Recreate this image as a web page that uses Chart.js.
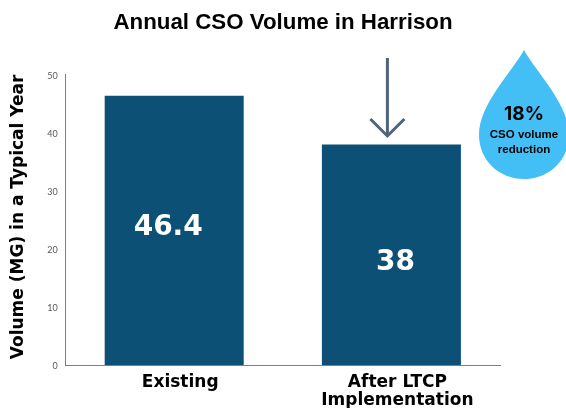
<!DOCTYPE html>
<html>
<head>
<meta charset="utf-8">
<script src="https://cdn.jsdelivr.net/npm/chart.js@4"></script>
<style>
  html, body { margin: 0; padding: 0; background: #fff; }
  canvas { display: block; }
</style>
</head>
<body>
<canvas id="barChart" width="566" height="408"></canvas>
<script>
const categories = [['Existing'], ['After LTCP', 'Implementation']];
const volumes = [46.4, 38];
const yTicks = [0, 10, 20, 30, 40, 50];
const barLabels = ['46.4', '38'];

const labelFont = '"DejaVu Sans", sans-serif';

// title is centred on the whole page, not on the plot
const centerTitlePlugin = {
    id: 'centerTitle',
    afterLayout(chart) {
        chart.titleBlock.right = chart.width;
    }
};

// white numbers inside the bars
const barLabelPlugin = {
    id: 'barLabels',
    afterDatasetsDraw(chart) {
        const ctx = chart.ctx;
        const shiftX = [-6, 4];
        const shiftY = [-3, 8];
        ctx.save();
        ctx.fillStyle = '#fff';
        ctx.font = 'bold 28px ' + labelFont;
        ctx.textAlign = 'center';
        ctx.textBaseline = 'middle';
        chart.getDatasetMeta(0).data.forEach((bar, i) => {
            ctx.fillText(barLabels[i], bar.x + shiftX[i], (bar.y + bar.base) / 2 + shiftY[i]);
        });
        ctx.restore();
    }
};

// arrow above the second bar, and the water drop callout
const calloutPlugin = {
    id: 'callout',
    afterDraw(chart) {
        const ctx = chart.ctx;
        const arrowX = chart.getDatasetMeta(0).data[1].x - 4;
        ctx.save();
        ctx.strokeStyle = '#4f6479';
        ctx.lineWidth = 3;
        ctx.beginPath();
        ctx.moveTo(arrowX, 58);
        ctx.lineTo(arrowX, 135);
        ctx.moveTo(arrowX - 17, 119);
        ctx.lineTo(arrowX, 136);
        ctx.lineTo(arrowX + 17, 119);
        ctx.stroke();

        ctx.fillStyle = '#43bff5';
        ctx.beginPath();
        ctx.moveTo(524, 50);
        ctx.bezierCurveTo(512, 72, 479, 104, 479, 135);
        ctx.bezierCurveTo(479, 160, 499, 179, 524, 179);
        ctx.bezierCurveTo(549, 179, 569, 160, 569, 135);
        ctx.bezierCurveTo(569, 104, 536, 72, 524, 50);
        ctx.fill();

        ctx.fillStyle = '#000';
        ctx.textAlign = 'center';
        ctx.textBaseline = 'middle';
        ctx.font = 'bold 19px Inter, sans-serif';
        ctx.fillText('18%', 524, 114);
        ctx.font = 'bold 11.5px "Liberation Sans", sans-serif';
        ctx.fillText('CSO volume', 524, 135);
        ctx.fillText('reduction', 524, 150);
        ctx.restore();
    }
};

new Chart(document.getElementById('barChart').getContext('2d'), {
    type: 'bar',
    data: {
        labels: categories,
        datasets: [{
            label: 'Annual CSO Volume',
            data: volumes,
            backgroundColor: '#0c5175',
            categoryPercentage: 1,
            barPercentage: 0.64
        }]
    },
    options: {
        responsive: false,
        animation: false,
        layout: { padding: { left: 0, right: 66, top: 0, bottom: 0 } },
        plugins: {
            legend: { display: false },
            tooltip: { enabled: false },
            title: {
                display: true,
                text: 'Annual CSO Volume in Harrison',
                color: '#000',
                font: { family: '"Liberation Sans"', size: 22.3, weight: 'bold' },
                padding: { top: 9, bottom: 39 }
            }
        },
        scales: {
            x: {
                grid: { display: false },
                border: { color: '#7f7f7f', width: 1 },
                ticks: {
                    color: '#000',
                    font: { family: labelFont, size: 17, weight: 'bold', lineHeight: 1.08 },
                    padding: 0,
                    labelOffset: 6,
                    maxRotation: 0
                },
                afterFit(scale) { scale.height = 43; }
            },
            y: {
                min: 0,
                max: 50,
                grid: { display: false },
                border: { color: '#7f7f7f', width: 1 },
                afterBuildTicks(scale) { scale.ticks = yTicks.map(v => ({ value: v })); },
                ticks: {
                    color: '#595959',
                    font: { family: 'Lato', size: 9 },
                    padding: 0,
                    labelOffset: 1
                },
                title: {
                    display: true,
                    text: ' Volume (MG) in a Typical Year',
                    color: '#000',
                    font: { family: labelFont, size: 17, weight: 'bold' },
                    padding: { top: 8, bottom: 0 }
                },
                afterFit(scale) { scale.width = 65.6; }
            }
        }
    },
    plugins: [centerTitlePlugin, barLabelPlugin, calloutPlugin]
});
</script>
</body>
</html>
